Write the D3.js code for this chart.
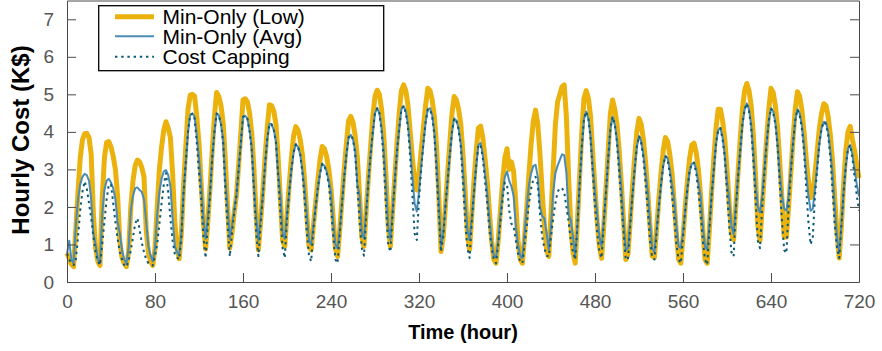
<!DOCTYPE html>
<html><head><meta charset="utf-8">
<script src="https://cdn.jsdelivr.net/npm/d3@7"></script>
<style>body{margin:0;background:#fff}svg{display:block}</style>
</head><body>
<svg id="chart" width="882" height="351"></svg>
<script>
// Sample times (every 2 hours, 0..720)
const hours = d3.range(0, 721, 2);
const xTicks = [0, 80, 160, 240, 320, 400, 480, 560, 640, 720];
const yTicks = [0, 1, 2, 3, 4, 5, 6, 7];
const seriesNames = ["Min-Only (Low)", "Min-Only (Avg)", "Cost Capping"];

// Min-Only (Low), K$ per hour, 12 samples per day
const minOnlyLow = [
0.77,0.62,0.47,0.41,1.4,2.4,3.3,3.78,3.95,3.96,3.85,3.4,
1.8,0.9,0.55,0.44,2.2,3.3,3.72,3.74,3.6,3.35,3.0,2.3,
1.1,0.65,0.5,0.41,0.8,2.0,2.7,3.1,3.25,3.2,3.05,2.8,
1.4,0.77,0.55,0.44,0.9,2.0,3.0,3.6,4.05,4.27,4.1,3.85,
2.9,1.6,0.9,0.62,1.3,2.6,3.6,4.6,4.98,5.0,4.95,4.4,
3.7,2.6,1.6,0.88,1.6,2.5,3.5,4.4,5.05,4.95,4.7,4.23,
3.2,2.0,0.9,1.3,1.85,2.3,3.1,3.95,4.85,4.88,4.8,4.5,
3.95,3.0,1.75,0.86,1.6,2.4,3.3,4.1,4.72,4.7,4.55,4.2,
3.3,2.2,1.1,0.95,1.8,2.6,3.3,3.9,4.14,4.05,3.8,3.4,
2.7,1.8,0.95,0.85,1.5,2.1,2.7,3.25,3.61,3.55,3.35,3.0,
2.5,1.7,0.9,0.68,1.4,2.2,3.0,3.7,4.3,4.41,4.25,3.9,
3.3,2.3,1.2,0.95,1.9,2.8,3.6,4.4,4.95,5.11,5.0,4.6,
3.9,2.8,1.5,0.95,1.9,2.8,3.7,4.5,5.1,5.25,5.1,4.7,
4.0,3.3,2.7,2.45,2.9,3.5,4.1,4.7,5.16,5.1,4.85,4.4,
3.6,2.3,0.81,1.2,2.0,2.9,3.7,4.5,4.94,4.85,4.6,4.2,
3.4,2.4,1.3,0.86,1.8,2.7,3.5,4.1,4.15,3.85,3.3,2.7,
1.9,1.1,0.6,0.5,1.1,1.9,2.7,3.3,3.55,3.0,3.2,2.95,
2.1,1.1,0.6,0.5,1.2,2.0,2.9,3.7,4.3,4.58,4.2,3.4,
2.4,1.5,0.85,0.68,1.8,3.0,4.2,4.8,5.0,5.2,5.25,4.4,
2.8,1.5,0.8,0.5,1.6,2.8,4.0,4.9,5.1,4.9,4.4,3.4,
2.5,1.6,0.95,0.63,1.5,2.5,3.5,4.5,4.85,4.6,4.2,3.5,
2.6,1.6,0.6,0.75,1.6,2.5,3.3,4.0,4.36,4.2,3.8,3.2,
2.4,1.5,0.7,0.65,1.4,2.2,2.9,3.5,3.85,3.75,3.4,2.9,
2.1,1.3,0.6,0.5,1.2,2.0,2.7,3.3,3.65,3.7,3.45,3.0,
2.3,1.4,0.6,0.5,1.4,2.4,3.3,4.1,4.6,4.6,4.3,3.8,
3.0,2.1,1.3,1.13,2.0,2.9,3.8,4.6,5.1,5.29,5.1,4.7,
3.9,2.8,1.5,1.1,2.0,2.9,3.8,4.6,5.16,5.05,4.7,4.1,
3.2,2.2,1.2,1.2,2.0,2.9,3.8,4.6,5.07,4.95,4.6,4.0,
3.3,2.7,2.25,2.3,2.9,3.5,4.1,4.5,4.75,4.7,4.4,3.9,
3.2,2.2,1.3,0.64,1.5,2.6,3.5,4.0,4.15,3.8,3.5,3.1,
2.77];

// Min-Only (Avg)
const minOnlyAvg = [
0.75,1.1,0.6,0.5,1.5,2.2,2.6,2.8,2.88,2.85,2.7,2.2,
1.3,1.0,0.6,0.5,1.8,2.45,2.7,2.75,2.65,2.5,2.2,1.6,
1.3,0.85,0.6,0.5,0.9,1.9,2.3,2.5,2.52,2.45,2.4,2.2,
1.6,0.95,0.7,0.55,0.9,1.8,2.4,2.75,2.95,2.98,2.85,2.55,
1.7,0.95,0.8,0.7,1.3,2.4,3.2,4.0,4.45,4.49,4.4,3.9,
3.3,2.6,1.7,1.15,1.7,2.4,3.3,4.0,4.49,4.45,4.2,3.8,
2.7,2.0,1.15,1.5,1.9,2.3,3.0,3.7,4.4,4.43,4.35,4.05,
3.6,2.6,1.7,1.1,1.7,2.3,3.1,3.8,4.21,4.2,4.05,3.75,
2.9,2.3,1.3,1.15,1.8,2.4,3.0,3.45,3.67,3.6,3.4,3.0,
2.5,1.8,1.1,1.0,1.5,2.0,2.5,2.9,3.15,3.1,2.95,2.7,
2.4,1.6,1.0,0.9,1.4,2.1,2.8,3.4,3.85,3.92,3.8,3.5,
2.6,2.3,1.3,1.16,1.9,2.7,3.4,4.0,4.5,4.63,4.5,4.1,
3.5,2.6,1.5,1.12,1.9,2.7,3.5,4.1,4.6,4.69,4.55,4.2,
3.6,2.8,2.1,1.88,2.4,3.1,3.7,4.25,4.6,4.63,4.45,4.0,
3.2,2.2,0.95,1.3,2.0,2.7,3.4,4.0,4.36,4.3,4.1,3.7,
3.0,2.2,1.4,1.12,1.7,2.4,3.1,3.65,3.7,3.4,2.9,2.4,
1.7,1.1,0.7,0.65,1.1,1.8,2.4,2.8,2.94,2.7,2.55,2.3,
1.5,1.0,0.7,0.64,1.3,2.0,2.6,2.9,3.1,3.12,2.8,2.0,
1.75,1.7,1.3,0.86,1.5,2.4,2.9,3.1,3.25,3.4,3.38,2.9,
1.8,1.64,1.2,0.68,1.5,2.6,3.6,4.35,4.54,4.35,3.9,3.1,
2.4,1.8,1.2,0.95,1.6,2.4,3.3,4.1,4.4,4.2,3.8,3.2,
2.5,1.6,0.85,0.9,1.6,2.3,3.0,3.6,3.89,3.75,3.4,2.9,
2.4,1.6,0.9,0.8,1.4,2.0,2.6,3.1,3.36,3.3,3.0,2.6,
2.2,1.5,0.95,0.9,1.3,1.9,2.5,2.95,3.15,3.18,3.0,2.65,
2.3,1.5,0.95,0.86,1.5,2.3,3.0,3.7,4.05,4.1,3.85,3.4,
2.7,2.2,1.5,1.27,2.0,2.8,3.5,4.2,4.6,4.76,4.6,4.2,
3.5,2.6,2.0,1.85,2.3,3.0,3.7,4.3,4.63,4.55,4.25,3.7,
2.9,2.3,1.95,1.9,2.3,3.0,3.7,4.3,4.6,4.5,4.2,3.7,
2.9,2.3,1.9,1.95,2.5,3.1,3.7,4.1,4.27,4.25,4.0,3.5,
2.9,2.0,1.2,0.77,1.5,2.4,3.1,3.55,3.65,3.4,3.0,2.6,
2.28];

// Cost Capping
const costCapping = [
0.75,0.6,0.5,0.45,0.6,1.2,1.9,2.4,2.68,2.5,2.1,1.7,
1.2,0.8,0.55,0.45,1.0,1.6,2.2,2.6,2.6,2.1,1.6,1.15,
0.8,0.6,0.45,0.4,0.55,0.85,1.2,1.55,1.7,1.4,1.05,0.8,
0.6,0.5,0.45,0.44,0.7,1.0,1.55,2.1,2.6,2.9,2.4,1.7,
1.1,0.75,0.65,0.6,1.2,2.4,3.2,4.0,4.45,4.49,4.35,3.7,
2.9,2.2,1.2,0.64,1.5,2.3,3.3,4.0,4.49,4.45,4.2,3.7,
2.4,1.5,0.68,1.3,1.85,2.3,3.0,3.7,4.4,4.43,4.35,4.0,
3.5,2.4,1.3,0.69,1.5,2.3,3.1,3.8,4.21,4.2,4.05,3.7,
2.8,1.8,0.9,0.64,1.7,2.4,3.0,3.45,3.67,3.6,3.4,2.9,
2.2,1.3,0.7,0.55,1.4,2.0,2.5,2.9,3.15,3.1,2.9,2.6,
2.0,1.2,0.6,0.5,1.3,2.1,2.8,3.4,3.85,3.92,3.8,3.4,
2.5,1.6,0.9,0.7,1.8,2.7,3.4,4.0,4.5,4.63,4.5,4.0,
3.2,2.0,1.0,0.8,1.8,2.7,3.5,4.1,4.6,4.69,4.5,4.1,
3.3,2.3,1.3,1.12,2.2,3.0,3.7,4.25,4.6,4.6,4.4,3.9,
2.9,1.8,0.8,1.2,2.0,2.7,3.4,4.0,4.36,4.3,4.05,3.6,
2.6,1.6,0.9,0.64,1.6,2.4,3.1,3.65,3.65,3.3,2.7,2.1,
1.4,0.9,0.6,0.5,1.0,1.6,2.2,2.65,2.6,1.9,1.55,1.5,
1.1,0.75,0.55,0.5,1.0,1.5,2.1,2.5,2.75,2.8,2.6,1.8,
1.2,0.9,0.7,0.68,1.2,1.7,2.1,2.4,2.5,2.5,2.4,2.0,
1.6,1.1,0.8,0.59,1.5,2.6,3.6,4.35,4.54,4.35,3.8,2.9,
2.0,1.3,0.8,0.64,1.6,2.4,3.3,4.1,4.4,4.2,3.7,2.9,
2.1,1.3,0.6,0.6,1.5,2.3,3.0,3.6,3.89,3.7,3.3,2.6,
1.9,1.1,0.65,0.6,1.3,2.0,2.6,3.1,3.36,3.25,2.9,2.3,
1.7,1.0,0.6,0.5,1.2,1.9,2.5,2.95,3.15,3.18,2.9,2.4,
1.8,1.1,0.6,0.46,1.4,2.3,3.0,3.7,4.05,4.1,3.8,3.3,
2.4,1.5,0.8,0.68,1.9,2.8,3.5,4.2,4.6,4.76,4.55,4.1,
3.2,2.2,1.1,0.9,2.0,2.9,3.7,4.3,4.63,4.5,4.2,3.6,
2.6,1.6,0.85,0.77,2.0,2.9,3.7,4.3,4.6,4.45,4.1,3.5,
2.5,1.6,1.0,1.2,2.3,3.0,3.7,4.1,4.27,4.2,3.9,3.3,
2.4,1.5,0.9,0.64,1.5,2.4,3.1,3.55,3.65,3.3,2.8,2.3,
1.9];

const svg = d3.select("#chart");
svg.append("rect").attr("width", 882).attr("height", 351).attr("fill", "#fff");

const L = 67, R = 859, T = 0.5, B = 282;
const x = d3.scaleLinear().domain([0, 720]).range([L, R]);
const y = d3.scaleLinear().domain([0, 7.5]).range([B, T]);

const axisColor = "#4a4a4a";
const labelColor = "#555";
const font = "'Liberation Sans', Arial, Helvetica, sans-serif";

// series
const styles = [
  {data: minOnlyLow, color: "#EBB20E", width: 5, dash: null},
  {data: minOnlyAvg, color: "#4A8CB6", width: 2, dash: null},
  {data: costCapping, color: "#0B5A78", width: 2, dash: "2.4,3.8"}
];
const line = d3.line().x((d, i) => x(hours[i])).y(d => y(d));
const g = svg.append("g");
styles.forEach(s => {
  g.append("path").datum(s.data)
    .attr("d", line)
    .attr("fill", "none")
    .attr("stroke", s.color)
    .attr("stroke-width", s.width)
    .attr("stroke-linejoin", "round")
    .attr("stroke-dasharray", s.dash);
});

// axes
const yAxisL = d3.axisLeft(y).tickValues(yTicks).tickSizeInner(-9).tickSizeOuter(0).tickPadding(13).tickFormat(d3.format("d"));
const yAxisR = d3.axisRight(y).tickValues(yTicks).tickSizeInner(-9).tickSizeOuter(0).tickFormat("");
const xAxisB = d3.axisBottom(x).tickValues(xTicks).tickSizeInner(-9).tickSizeOuter(0).tickPadding(13).tickFormat(d3.format("d"));
const xAxisT = d3.axisTop(x).tickValues(xTicks).tickSizeInner(0).tickSizeOuter(0).tickFormat("");

function styleAxis(sel) {
  sel.selectAll("path.domain").attr("stroke", axisColor).attr("stroke-width", 1);
  sel.selectAll(".tick line").attr("stroke", axisColor).attr("stroke-width", 1);
  sel.selectAll(".tick text").attr("fill", labelColor).style("font-family", font).style("font-size", "19px");
}
styleAxis(svg.append("g").attr("transform", `translate(${L},0)`).call(yAxisL));
styleAxis(svg.append("g").attr("transform", `translate(${R},0)`).call(yAxisR));
styleAxis(svg.append("g").attr("transform", `translate(0,${B})`).call(xAxisB));
styleAxis(svg.append("g").attr("transform", `translate(0,${T})`).call(xAxisT));

// axis titles
svg.append("text").attr("x", 463).attr("y", 339).attr("text-anchor", "middle")
  .style("font-family", font).style("font-size", "20px").style("font-weight", "bold")
  .attr("fill", "#000").text("Time (hour)");
svg.append("text").attr("transform", "translate(29,140) rotate(-90)").attr("text-anchor", "middle")
  .style("font-family", font).style("font-size", "24px").style("font-weight", "bold")
  .attr("fill", "#000").text("Hourly Cost (K$)");

// legend
const lg = svg.append("g");
lg.append("rect").attr("x", 98.7).attr("y", 5.7).attr("width", 285).attr("height", 65)
  .attr("fill", "#fff").attr("stroke", "#000").attr("stroke-width", 1.3);
const rowsY = [16.7, 36.3, 56.7];
styles.forEach((s, i) => {
  lg.append("line").attr("x1", 115).attr("x2", 154).attr("y1", rowsY[i]).attr("y2", rowsY[i])
    .attr("stroke", s.color).attr("stroke-width", s.width).attr("stroke-dasharray", s.dash);
  lg.append("text").attr("x", 162.5).attr("y", rowsY[i] + 7.3)
    .style("font-family", font).style("font-size", "21px").attr("fill", "#000")
    .text(seriesNames[i]);
});
</script>
</body></html>
